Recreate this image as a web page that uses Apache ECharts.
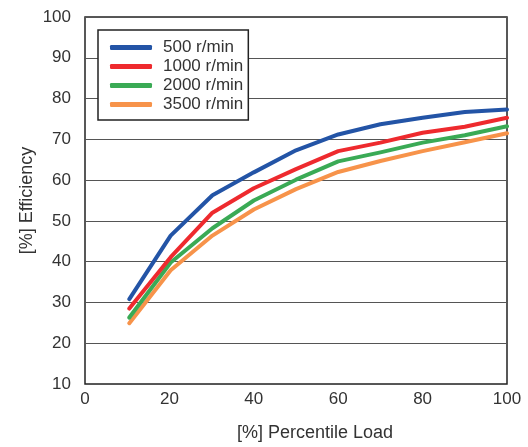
<!DOCTYPE html>
<html>
<head>
<meta charset="utf-8">
<script src="https://cdn.jsdelivr.net/npm/echarts@6/dist/echarts.min.js"></script>
<style>
html,body{margin:0;padding:0;background:#fff;}
#chart{width:528px;height:447px;}
</style>
</head>
<body>
<div id="chart"></div>
<script>
const loadPercent = [10.5, 20.3, 30.2, 40, 50, 60, 70, 80, 90, 100];
const seriesNames = ['500 r/min', '1000 r/min', '2000 r/min', '3500 r/min'];
const eff500  = [30.8, 46.4, 56.3, 61.9, 67.3, 71.2, 73.7, 75.3, 76.7, 77.3];
const eff1000 = [28.5, 41.1, 52.0, 58.0, 62.7, 67.1, 69.2, 71.6, 73.1, 75.3];
const eff2000 = [26.3, 39.8, 48.2, 55.0, 60.1, 64.6, 66.8, 69.2, 71.0, 73.2];
const eff3500 = [24.9, 37.9, 46.4, 52.8, 57.8, 62.0, 64.7, 67.1, 69.3, 71.5];
const colors = ['#2354a6', '#ee2a2e', '#3aaa55', '#f7934a'];

const FONT = "'Liberation Sans Narrow', 'Arial Narrow', 'Liberation Sans', sans-serif";
const allData = [eff500, eff1000, eff2000, eff3500];

const chart = echarts.init(document.getElementById('chart'), null, {renderer: 'canvas'});
chart.setOption({
  animation: false,
  textStyle: {fontFamily: FONT},
  grid: {
    left: 85, right: 21, top: 17, bottom: 61,
    show: true, borderColor: '#222', borderWidth: 1.5, backgroundColor: 'transparent'
  },
  legend: {
    orient: 'vertical',
    left: 98, top: 30,
    padding: [8, 5, 6, 12],
    itemGap: 0,
    itemWidth: 42, itemHeight: 5,
    icon: 'roundRect',
    backgroundColor: '#fff',
    borderColor: '#222', borderWidth: 1.5, borderRadius: 0,
    textStyle: {fontFamily: FONT, fontSize: 17, color: '#333', lineHeight: 19, padding: [0, 0, 0, 6]},
    data: seriesNames
  },
  xAxis: {
    type: 'value', min: 0, max: 100, interval: 20,
    name: '[%] Percentile Load', nameLocation: 'middle', nameGap: 40,
    nameMoveOverlap: false,
    nameTextStyle: {fontFamily: FONT, fontSize: 18, color: '#333', padding: [0, 0, 0, 38]},
    axisLine: {show: false}, axisTick: {show: false},
    axisLabel: {fontFamily: FONT, fontSize: 17, color: '#333', margin: 7},
    splitLine: {show: false}
  },
  yAxis: {
    type: 'value', min: 10, max: 100, interval: 10,
    name: '[%] Efficiency', nameLocation: 'middle', nameGap: 49,
    nameMoveOverlap: false,
    nameTextStyle: {fontFamily: FONT, fontSize: 18, color: '#333', padding: [0, 0, 0, 0]},
    axisLine: {show: false}, axisTick: {show: false},
    axisLabel: {fontFamily: FONT, fontSize: 17, color: '#333', margin: 14},
    splitLine: {show: true, lineStyle: {color: '#555', width: 1}}
  },
  series: seriesNames.map((n, i) => ({
    name: n, type: 'line', symbol: 'none',
    data: loadPercent.map((x, j) => [x, allData[i][j]]),
    lineStyle: {color: colors[i], width: 4, cap: 'round', join: 'round'},
    itemStyle: {color: colors[i]},
    z: 10 - i
  }))
});
</script>
</body>
</html>
